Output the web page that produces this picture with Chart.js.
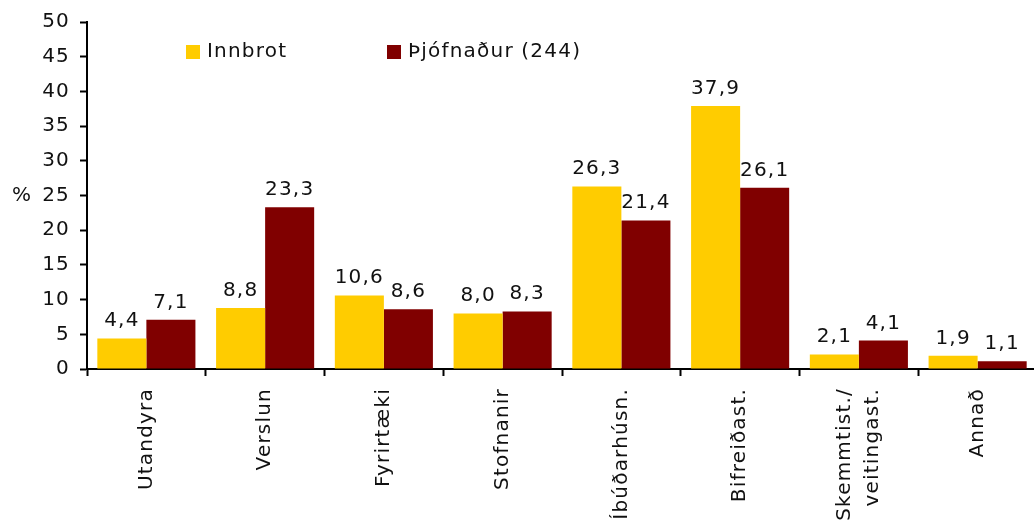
<!DOCTYPE html>
<html>
<head>
<meta charset="utf-8">
<script src="https://cdn.jsdelivr.net/npm/chart.js@4/dist/chart.umd.min.js"></script>
<style>
  html, body { margin: 0; padding: 0; background: #fff; overflow: hidden; }
</style>
</head>
<body>
<canvas id="myChart" width="1040" height="527"></canvas>
<script>
// Chart data
const categories = ['Utandyra', 'Verslun', 'Fyrirtæki', 'Stofnanir', 'Íbúðarhúsn.', 'Bifreiðast.', ['Skemmtist./', 'veitingast.'], 'Annað'];
const innbrot = [4.4, 8.8, 10.6, 8.0, 26.3, 37.9, 2.1, 1.9];
const thjofnadur = [7.1, 23.3, 8.6, 8.3, 21.4, 26.1, 4.1, 1.1];
const seriesNames = ['Innbrot', 'Þjófnaður (244)'];
const yTicks = [0, 5, 10, 15, 20, 25, 30, 35, 40, 45, 50];

const FONT = '"DejaVu Sans", Verdana, sans-serif';
const SPACING = '1.2px';
const LINE_H = 28;

// Excel-like letter spacing for all canvas text,
// and centre the two-line category label on its tick
const spacingPlugin = {
    id: 'spacing',
    beforeUpdate(chart) { chart.ctx.letterSpacing = SPACING; },
    beforeDraw(chart) {
        chart.ctx.letterSpacing = SPACING;
        const items = chart.scales.x.getLabelItems(chart.chartArea);
        items.forEach(function (item) {
            if (Array.isArray(item.label) && !item._centred) {
                item.options.translation[0] -= (item.label.length - 1) * LINE_H / 2;
                item._centred = true;
            }
        });
    }
};

// Value labels above bars, "%" title and legend box
const extrasPlugin = {
    id: 'extras',
    afterDraw(chart) {
        const ctx = chart.ctx;
        ctx.save();
        ctx.letterSpacing = SPACING;
        ctx.font = '20px ' + FONT;
        ctx.fillStyle = '#111';

        // value labels
        ctx.textAlign = 'center';
        ctx.textBaseline = 'alphabetic';
        chart.data.datasets.forEach(function (ds, i) {
            chart.getDatasetMeta(i).data.forEach(function (bar, j) {
                ctx.fillText(ds.data[j].toFixed(1).replace('.', ','), bar.x, bar.y - 12);
            });
        });

        // y axis title
        const yScale = chart.scales.y;
        ctx.textBaseline = 'middle';
        ctx.fillText('%', 22, yScale.getPixelForValue(25));

        // legend
        const legendX = [186, 387];
        ctx.textAlign = 'left';
        chart.data.datasets.forEach(function (ds, i) {
            ctx.fillStyle = ds.backgroundColor;
            ctx.fillRect(legendX[i], 45, 14, 14);
            ctx.fillStyle = '#111';
            ctx.fillText(ds.label, legendX[i] + 21, 52);
        });
        ctx.restore();
    }
};

const ctx = document.getElementById('myChart').getContext('2d');

const myChart = new Chart(ctx, {
    type: 'bar',
    data: {
        labels: categories,
        datasets: [{
            label: seriesNames[0],
            data: innbrot,
            backgroundColor: '#FFCC00',
            borderWidth: 0
        },
        {
            label: seriesNames[1],
            data: thjofnadur,
            backgroundColor: '#800000',
            borderWidth: 0
        }]
    },
    options: {
        responsive: false,
        animation: false,
        devicePixelRatio: 1,
        layout: {
            padding: { top: 18, right: 3, left: 0, bottom: 0 }
        },
        datasets: {
            bar: {
                categoryPercentage: 0.826,
                barPercentage: 1.0
            }
        },
        plugins: {
            legend: { display: false },
            tooltip: { enabled: false }
        },
        scales: {
            x: {
                afterFit: function (scale) { scale.height = 158; },
                border: { color: '#000', width: 2 },
                grid: {
                    offset: true,
                    drawOnChartArea: false,
                    drawTicks: true,
                    tickLength: 7,
                    tickColor: '#000',
                    tickWidth: 2
                },
                ticks: {
                    color: '#111',
                    font: { family: FONT, size: 20, lineHeight: LINE_H / 20 },
                    minRotation: 90,
                    maxRotation: 90,
                    padding: 12,
                    autoSkip: false
                }
            },
            y: {
                min: 0,
                max: 50,
                afterFit: function (scale) { scale.width = 87; },
                afterBuildTicks: function (scale) {
                    scale.ticks = yTicks.map(function (v) { return { value: v }; });
                },
                border: { color: '#000', width: 2 },
                grid: {
                    drawOnChartArea: false,
                    drawTicks: true,
                    tickLength: 7,
                    tickColor: '#000',
                    tickWidth: 2
                },
                ticks: {
                    color: '#111',
                    font: { family: FONT, size: 20 },
                    padding: 10
                }
            }
        }
    },
    plugins: [spacingPlugin, extrasPlugin]
});
</script>
</body>
</html>
